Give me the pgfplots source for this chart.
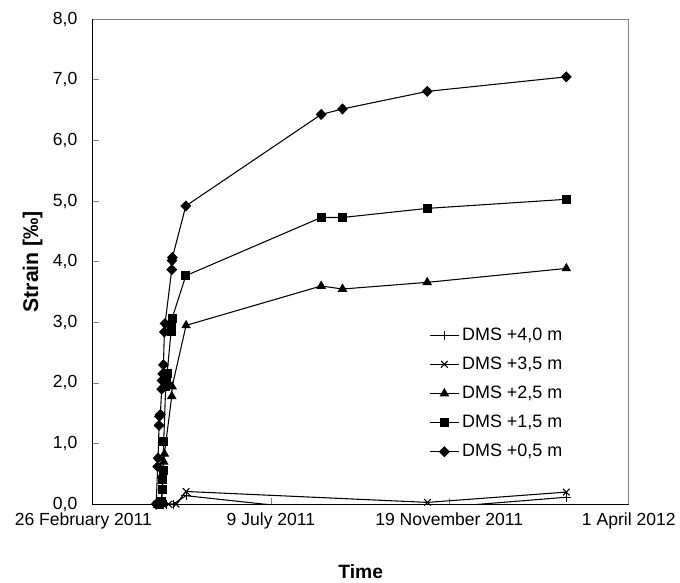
\documentclass[border=0pt]{standalone}
\usepackage{pgfplots}
\pgfplotsset{compat=1.18}
\usepackage{pgfplotstable}
\usepackage{fontspec}
\setmainfont{Liberation Sans}

% x = days after 26 February 2011, y = strain in permille
\pgfplotstableread{
day strain
47.5 0.00
55.0 0.00
60.0 0.00
69.7 0.14
170.5 -0.10
186.4 -0.09
249.6 -0.07
353.4 0.115
}\dmsfour

\pgfplotstableread{
day strain
47.5 0.00
56.7 0.00
62.2 0.00
69.7 0.21
249.8 0.03
353.4 0.20
}\dmsthree

\pgfplotstableread{
day strain
51.0 0.00
53.0 0.70
53.5 0.83
59.0 1.78
59.3 1.94
69.7 2.95
170.5 3.60
186.4 3.55
249.6 3.66
353.4 3.89
}\dmstwo

\pgfplotstableread{
day strain
50.0 0.00
51.5 0.05
52.0 0.25
52.3 0.40
52.5 0.55
53.0 1.03
54.5 1.95
55.0 2.05
55.5 2.15
58.5 2.85
59.0 2.95
59.3 3.07
69.5 3.77
170.5 4.73
186.4 4.73
249.6 4.88
353.4 5.03
}\dmsone

\pgfplotstableread{
day strain
47.4 0.00
48.5 0.62
48.8 0.76
49.5 1.30
49.8 1.45
50.5 1.48
51.5 1.90
51.8 2.04
52.3 2.15
52.8 2.30
53.5 2.84
54.0 2.98
59.0 3.87
59.2 4.02
59.5 4.07
69.5 4.92
170.5 6.43
186.4 6.52
249.6 6.81
353.4 7.05
}\dmszero

\begin{document}
\begin{tikzpicture}
\begin{axis}[
    name=ax,
    scale only axis,
    width=403.5pt, height=365pt,
    xmin=0, xmax=400,
    ymin=0, ymax=8,
    xtick={0,133,266,400},
    xticklabels={\hspace*{-14pt}26 February 2011, 9 July 2011, 19 November 2011, 1 April 2012},
    xticklabel style={yshift=-3pt},
    ytick={0,1,2,3,4,5,6,7,8},
    yticklabel style={/pgf/number format/fixed, /pgf/number format/fixed zerofill,
        /pgf/number format/precision=1, /pgf/number format/use comma,
        /pgf/number format/assume math mode=true, xshift=-8pt},
    tick label style={font=\fontsize{13.2}{15}\selectfont},
    xlabel={Time},
    ylabel={Strain [‰]},
    xlabel style={font=\fontsize{14.5}{16}\selectfont\bfseries, yshift=-19.5pt},
    ylabel style={font=\fontsize{16}{18}\selectfont\bfseries, yshift=1pt},
    xtick pos=lower, ytick pos=left,
    tick align=inside,
    major tick length=5pt,
    tick style={gray, line width=0.6pt},
    axis line style={black, line width=0.8pt},
    legend style={at={(0.62,0.375)}, anchor=north west, draw=none, fill=none,
        font=\fontsize{13.5}{15}\selectfont, row sep=7pt},
    legend cell align=left,
    legend image code/.code={\draw[mark repeat=2, mark phase=2]
        plot coordinates {(0cm,0cm) (0.385cm,0cm) (0.77cm,0cm)};},
]
\addplot[black, line width=0.8pt, mark=+, mark size=3.5pt, mark options={solid}]
    table[x=day, y=strain] {\dmsfour};
\addlegendentry{DMS +4,0 m}
\addplot[black, line width=0.8pt, mark=x, mark size=3.5pt, mark options={solid}]
    table[x=day, y=strain] {\dmsthree};
\addlegendentry{DMS +3,5 m}
\addplot[black, line width=0.8pt, mark=triangle*, mark size=3.4pt, mark options={solid, fill=black}]
    table[x=day, y=strain] {\dmstwo};
\addlegendentry{DMS +2,5 m}
\addplot[black, line width=0.8pt, mark=square*, mark size=3pt, mark options={solid, fill=black}]
    table[x=day, y=strain] {\dmsone};
\addlegendentry{DMS +1,5 m}
\addplot[black, line width=0.8pt, mark=diamond*, mark size=3.6pt, mark options={solid, fill=black, xscale=1.3}]
    table[x=day, y=strain] {\dmszero};
\addlegendentry{DMS +0,5 m}
\draw[gray, line width=0.8pt] (rel axis cs:0,1) -- (rel axis cs:1,1) -- (rel axis cs:1,0);
\end{axis}
\path ([shift={(-69.75pt,-56.25pt)}]ax.south west) rectangle ([shift={(36.75pt,14.5pt)}]ax.north east);
\end{tikzpicture}
\end{document}
